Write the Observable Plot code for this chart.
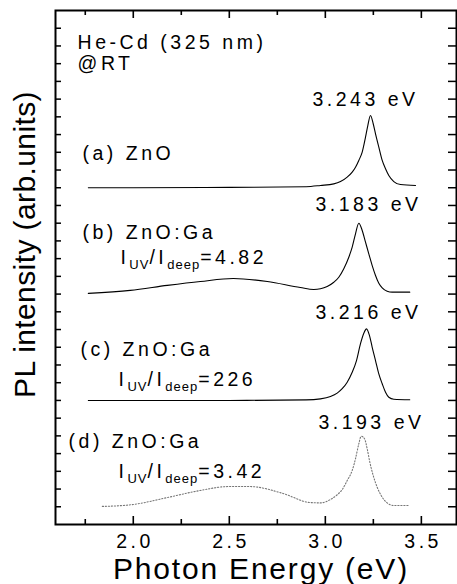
<!DOCTYPE html>
<html><head><meta charset="utf-8">
<script src="https://cdn.jsdelivr.net/npm/d3@7"></script>
<script src="https://cdn.jsdelivr.net/npm/@observablehq/plot@0.6"></script>
<style>body{margin:0;background:#fff}</style>
</head><body><div id="chart"></div>
<script>
// ---- data ----
const energyA = [1.766, 2.0, 2.5, 2.9, 2.9748, 3.0441, 3.079, 3.1139, 3.1399, 3.1571, 3.1743, 3.1920, 3.2092, 3.2212, 3.2352, 3.2493, 3.2613, 3.2785, 3.2962, 3.3134, 3.3305, 3.3566, 3.3915, 3.4696];
const intensityA = [19.0, 19.0, 19.02, 19.06, 19.13, 19.22, 19.35, 19.60, 19.88, 20.16, 20.54, 21.01, 21.85, 22.51, 23.08, 22.61, 22.04, 21.29, 20.54, 20.07, 19.69, 19.35, 19.18, 19.13];

const energyB = [1.766, 1.984, 2.177, 2.349, 2.521, 2.698, 2.87, 2.94, 2.9748, 3.0097, 3.0441, 3.0701, 3.0961, 3.1222, 3.1399, 3.1571, 3.1743, 3.1920, 3.2092, 3.2264, 3.2441, 3.2613, 3.2785, 3.2962, 3.3219, 3.3482, 3.4396];
const intensityB = [13.04, 13.21, 13.49, 13.71, 13.88, 13.71, 13.37, 13.26, 13.30, 13.43, 13.67, 13.95, 14.43, 15.08, 15.65, 16.40, 17.00, 16.59, 15.93, 15.27, 14.61, 14.05, 13.61, 13.35, 13.16, 13.11, 13.11];

const energyC = [1.766, 2.5, 2.9, 2.9748, 3.0268, 3.0617, 3.0878, 3.1139, 3.1399, 3.1623, 3.1831, 3.2003, 3.2144, 3.2300, 3.2441, 3.2613, 3.2785, 3.2962, 3.3134, 3.3305, 3.3566, 3.4396];
const intensityC = [7.0, 7.0, 7.03, 7.09, 7.22, 7.41, 7.66, 8.03, 8.59, 9.25, 10.20, 10.79, 11.04, 10.66, 10.00, 9.25, 8.50, 7.94, 7.46, 7.18, 7.07, 7.04];

const energyD = [1.839, 2.0, 2.177, 2.349, 2.495, 2.609, 2.78, 2.92, 2.9748, 3.0268, 3.0617, 3.0878, 3.1139, 3.1399, 3.1571, 3.1743, 3.1868, 3.2040, 3.2180, 3.2316, 3.2493, 3.2701, 3.2962, 3.3219, 3.3566, 3.4396];
const intensityD = [1.02, 1.13, 1.52, 1.92, 2.14, 2.14, 1.75, 1.24, 1.22, 1.41, 1.68, 1.97, 2.48, 3.05, 3.71, 4.55, 4.98, 4.84, 4.27, 3.52, 2.76, 2.10, 1.54, 1.22, 1.07, 1.07];

const sampleLabels = ["(a) ZnO", "(b) ZnO:Ga", "(c) ZnO:Ga", "(d) ZnO:Ga"];
const ratioValues = ["4.82", "226", "3.42"];
const peakLabels = ["3.243 eV", "3.183 eV", "3.216 eV", "3.193 eV"];
const headerLines = ["He-Cd (325 nm)", "@RT"];
const xTicks = [2.0, 2.5, 3.0, 3.5];
const xMinorTicks = [1.75, 2.25, 2.75, 3.25];
const yTicks = [1, 2, 3, 4, 5, 6, 7, 8, 9, 10, 11, 12, 13, 14, 15, 16, 17, 18, 19, 20, 21, 22, 23, 24, 25, 26, 27, 28];
const xTitle = "Photon Energy (eV)";
const yTitle = "PL intensity (arb.units)";

// ---- layout ----
const W = 457, H = 584, mL = 55, mR = 1, mT = 10, mB = 60;
const iW = W - mL - mR, iH = H - mT - mB;
const FS = 19.5;

const toRows = (E, I) => E.map((e, i) => ({e, v: I[i]}));
const curves = [toRows(energyA, intensityA), toRows(energyB, intensityB), toRows(energyC, intensityC)];
const dotted = toRows(energyD, intensityD);

const leftText = [
  {x: 1.710, y: 26.80, t: headerLines[0]},
  {x: 1.710, y: 25.62, t: headerLines[1]},
  {x: 1.7356, y: 20.54, t: sampleLabels[0]},
  {x: 1.7356, y: 16.08, t: sampleLabels[1]},
  {x: 1.933, y: 14.67, t: "I_UV/I_deep=" + ratioValues[0]},
  {x: 1.725, y: 9.535, t: sampleLabels[2]},
  {x: 1.923, y: 7.84, t: "I_UV/I_deep=" + ratioValues[1]},
  {x: 1.663, y: 4.29, t: sampleLabels[3]},
  {x: 1.923, y: 2.65, t: "I_UV/I_deep=" + ratioValues[2]},
  {x: 2.933, y: 23.64, t: peakLabels[0]},
  {x: 2.9485, y: 17.66, t: peakLabels[1]},
  {x: 2.9485, y: 11.62, t: peakLabels[2]},
  {x: 2.964, y: 5.36, t: peakLabels[3]}
];

const plot = Plot.plot({
  width: W, height: H,
  marginLeft: mL, marginRight: mR, marginTop: mT, marginBottom: mB,
  style: {fontFamily: '"Liberation Sans", Arial, Helvetica, sans-serif', background: "#fff", color: "#000", letterSpacing: "3.5px"},
  x: {domain: [1.595, 3.683]},
  y: {domain: [0, 29], axis: null},
  marks: [
    ...curves.map(c => Plot.line(c, {x: "e", y: "v", curve: "monotone-x", stroke: "#000", strokeWidth: 1.1})),
    Plot.line(dotted, {x: "e", y: "v", curve: "monotone-x", stroke: "#777", strokeWidth: 1.1, strokeDasharray: "1.2,1.8"}),
    Plot.tickX(xTicks, {x: d => d, insetTop: iH - 8, strokeWidth: 1.6}),
    Plot.tickX(xTicks, {x: d => d, insetBottom: iH - 8, strokeWidth: 1.6}),
    Plot.tickX(xMinorTicks, {x: d => d, insetTop: iH - 5, strokeWidth: 1.6}),
    Plot.tickX(xMinorTicks, {x: d => d, insetBottom: iH - 5, strokeWidth: 1.6}),
    Plot.tickY(yTicks, {y: d => d, insetRight: iW - 6, strokeWidth: 1.5}),
    Plot.tickY(yTicks, {y: d => d, insetLeft: iW - 8, strokeWidth: 1.5}),
    Plot.frame({stroke: "#000", strokeWidth: 2}),
    Plot.axisX({ticks: xTicks, tickSize: 0, tickPadding: 10, dx: 1.75, fontSize: FS, tickFormat: d => d.toFixed(1), label: null}),
    Plot.text(leftText, {x: "x", y: "y", text: "t", textAnchor: "start", lineAnchor: "bottom", fontSize: FS, fill: "#000"}),
    Plot.text([xTitle], {frameAnchor: "bottom", text: d => d, textAnchor: "middle", lineAnchor: "bottom", dy: 54, dx: 5, fontSize: 30, fill: "#000"}),
    Plot.text([yTitle], {frameAnchor: "left", text: d => d, textAnchor: "middle", lineAnchor: "middle", rotate: -90, dx: -30, dy: -23, fontSize: 30, fill: "#000"})
  ]
});

// subscripts and per-text letter spacing
d3.select(plot).selectAll("text").each(function() {
  const el = d3.select(this);
  const s = el.text();
  if (s === xTitle) el.style("letter-spacing", "1.8px");
  if (s === yTitle) el.style("letter-spacing", "0.4px");
  const m = /^I_UV\/I_deep=(.*)$/.exec(s);
  if (m) {
    el.text(null);
    el.append("tspan").text("I");
    el.append("tspan").attr("font-size", 13).attr("dy", 5).style("letter-spacing", "1px").text("UV");
    el.append("tspan").attr("dy", -5).text("/I");
    el.append("tspan").attr("font-size", 13).attr("dy", 5).style("letter-spacing", "1px").text("deep");
    el.append("tspan").attr("dy", -5).text("=" + m[1]);
  }
});

document.getElementById("chart").appendChild(plot);
</script>
</body></html>
